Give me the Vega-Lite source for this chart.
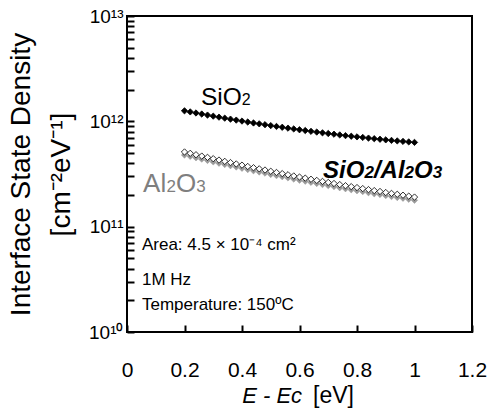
{
  "$schema": "https://vega.github.io/schema/vega-lite/v6.json",
  "width": 345,
  "height": 316,
  "autosize": "none",
  "padding": {"left": 127, "top": 16, "right": 18, "bottom": 80},
  "config": {
    "font": "Liberation Sans",
    "view": {"stroke": "black", "strokeWidth": 2},
    "axis": {"grid": false, "ticks": true, "tickSize": 7, "tickWidth": 2, "tickColor": "black", "tickOpacity": 1, "offset": -7, "domain": false, "zindex": 1, "labelColor": "black", "labelFlush": false, "labelOverlap": false},
    "text": {"baseline": "alphabetic", "align": "left", "color": "black"}
  },
  "datasets": {
    "pts": [
      {"x": 0.20, "series": "SiO2", "y": 1.259e12},
      {"x": 0.22, "series": "SiO2", "y": 1.229e12},
      {"x": 0.24, "series": "SiO2", "y": 1.200e12},
      {"x": 0.26, "series": "SiO2", "y": 1.173e12},
      {"x": 0.28, "series": "SiO2", "y": 1.146e12},
      {"x": 0.30, "series": "SiO2", "y": 1.120e12},
      {"x": 0.32, "series": "SiO2", "y": 1.096e12},
      {"x": 0.34, "series": "SiO2", "y": 1.072e12},
      {"x": 0.36, "series": "SiO2", "y": 1.049e12},
      {"x": 0.38, "series": "SiO2", "y": 1.027e12},
      {"x": 0.40, "series": "SiO2", "y": 1.006e12},
      {"x": 0.42, "series": "SiO2", "y": 9.85e11},
      {"x": 0.44, "series": "SiO2", "y": 9.65e11},
      {"x": 0.46, "series": "SiO2", "y": 9.47e11},
      {"x": 0.48, "series": "SiO2", "y": 9.29e11},
      {"x": 0.50, "series": "SiO2", "y": 9.11e11},
      {"x": 0.52, "series": "SiO2", "y": 8.94e11},
      {"x": 0.54, "series": "SiO2", "y": 8.78e11},
      {"x": 0.56, "series": "SiO2", "y": 8.62e11},
      {"x": 0.58, "series": "SiO2", "y": 8.47e11},
      {"x": 0.60, "series": "SiO2", "y": 8.32e11},
      {"x": 0.62, "series": "SiO2", "y": 8.18e11},
      {"x": 0.64, "series": "SiO2", "y": 8.04e11},
      {"x": 0.66, "series": "SiO2", "y": 7.91e11},
      {"x": 0.68, "series": "SiO2", "y": 7.78e11},
      {"x": 0.70, "series": "SiO2", "y": 7.66e11},
      {"x": 0.72, "series": "SiO2", "y": 7.55e11},
      {"x": 0.74, "series": "SiO2", "y": 7.43e11},
      {"x": 0.76, "series": "SiO2", "y": 7.32e11},
      {"x": 0.78, "series": "SiO2", "y": 7.22e11},
      {"x": 0.80, "series": "SiO2", "y": 7.12e11},
      {"x": 0.82, "series": "SiO2", "y": 7.03e11},
      {"x": 0.84, "series": "SiO2", "y": 6.93e11},
      {"x": 0.86, "series": "SiO2", "y": 6.84e11},
      {"x": 0.88, "series": "SiO2", "y": 6.76e11},
      {"x": 0.90, "series": "SiO2", "y": 6.67e11},
      {"x": 0.92, "series": "SiO2", "y": 6.59e11},
      {"x": 0.94, "series": "SiO2", "y": 6.52e11},
      {"x": 0.96, "series": "SiO2", "y": 6.45e11},
      {"x": 0.98, "series": "SiO2", "y": 6.38e11},
      {"x": 1.00, "series": "SiO2", "y": 6.31e11},
      {"x": 0.20, "series": "SiO2/Al2O3", "y": 5.12e11},
      {"x": 0.22, "series": "SiO2/Al2O3", "y": 4.97e11},
      {"x": 0.24, "series": "SiO2/Al2O3", "y": 4.82e11},
      {"x": 0.26, "series": "SiO2/Al2O3", "y": 4.68e11},
      {"x": 0.28, "series": "SiO2/Al2O3", "y": 4.55e11},
      {"x": 0.30, "series": "SiO2/Al2O3", "y": 4.42e11},
      {"x": 0.32, "series": "SiO2/Al2O3", "y": 4.29e11},
      {"x": 0.34, "series": "SiO2/Al2O3", "y": 4.17e11},
      {"x": 0.36, "series": "SiO2/Al2O3", "y": 4.06e11},
      {"x": 0.38, "series": "SiO2/Al2O3", "y": 3.94e11},
      {"x": 0.40, "series": "SiO2/Al2O3", "y": 3.84e11},
      {"x": 0.42, "series": "SiO2/Al2O3", "y": 3.73e11},
      {"x": 0.44, "series": "SiO2/Al2O3", "y": 3.63e11},
      {"x": 0.46, "series": "SiO2/Al2O3", "y": 3.54e11},
      {"x": 0.48, "series": "SiO2/Al2O3", "y": 3.45e11},
      {"x": 0.50, "series": "SiO2/Al2O3", "y": 3.36e11},
      {"x": 0.52, "series": "SiO2/Al2O3", "y": 3.27e11},
      {"x": 0.54, "series": "SiO2/Al2O3", "y": 3.19e11},
      {"x": 0.56, "series": "SiO2/Al2O3", "y": 3.11e11},
      {"x": 0.58, "series": "SiO2/Al2O3", "y": 3.03e11},
      {"x": 0.60, "series": "SiO2/Al2O3", "y": 2.96e11},
      {"x": 0.62, "series": "SiO2/Al2O3", "y": 2.89e11},
      {"x": 0.64, "series": "SiO2/Al2O3", "y": 2.82e11},
      {"x": 0.66, "series": "SiO2/Al2O3", "y": 2.75e11},
      {"x": 0.68, "series": "SiO2/Al2O3", "y": 2.69e11},
      {"x": 0.70, "series": "SiO2/Al2O3", "y": 2.63e11},
      {"x": 0.72, "series": "SiO2/Al2O3", "y": 2.57e11},
      {"x": 0.74, "series": "SiO2/Al2O3", "y": 2.51e11},
      {"x": 0.76, "series": "SiO2/Al2O3", "y": 2.45e11},
      {"x": 0.78, "series": "SiO2/Al2O3", "y": 2.40e11},
      {"x": 0.80, "series": "SiO2/Al2O3", "y": 2.35e11},
      {"x": 0.82, "series": "SiO2/Al2O3", "y": 2.30e11},
      {"x": 0.84, "series": "SiO2/Al2O3", "y": 2.25e11},
      {"x": 0.86, "series": "SiO2/Al2O3", "y": 2.20e11},
      {"x": 0.88, "series": "SiO2/Al2O3", "y": 2.16e11},
      {"x": 0.90, "series": "SiO2/Al2O3", "y": 2.11e11},
      {"x": 0.92, "series": "SiO2/Al2O3", "y": 2.07e11},
      {"x": 0.94, "series": "SiO2/Al2O3", "y": 2.03e11},
      {"x": 0.96, "series": "SiO2/Al2O3", "y": 1.99e11},
      {"x": 0.98, "series": "SiO2/Al2O3", "y": 1.95e11},
      {"x": 1.00, "series": "SiO2/Al2O3", "y": 1.91e11},
      {"x": 0.20, "series": "Al2O3", "y": 4.78e11},
      {"x": 0.22, "series": "Al2O3", "y": 4.64e11},
      {"x": 0.24, "series": "Al2O3", "y": 4.50e11},
      {"x": 0.26, "series": "Al2O3", "y": 4.37e11},
      {"x": 0.28, "series": "Al2O3", "y": 4.25e11},
      {"x": 0.30, "series": "Al2O3", "y": 4.12e11},
      {"x": 0.32, "series": "Al2O3", "y": 4.00e11},
      {"x": 0.34, "series": "Al2O3", "y": 3.89e11},
      {"x": 0.36, "series": "Al2O3", "y": 3.79e11},
      {"x": 0.38, "series": "Al2O3", "y": 3.68e11},
      {"x": 0.40, "series": "Al2O3", "y": 3.58e11},
      {"x": 0.42, "series": "Al2O3", "y": 3.48e11},
      {"x": 0.44, "series": "Al2O3", "y": 3.39e11},
      {"x": 0.46, "series": "Al2O3", "y": 3.30e11},
      {"x": 0.48, "series": "Al2O3", "y": 3.22e11},
      {"x": 0.50, "series": "Al2O3", "y": 3.13e11},
      {"x": 0.52, "series": "Al2O3", "y": 3.05e11},
      {"x": 0.54, "series": "Al2O3", "y": 2.98e11},
      {"x": 0.56, "series": "Al2O3", "y": 2.90e11},
      {"x": 0.58, "series": "Al2O3", "y": 2.83e11},
      {"x": 0.60, "series": "Al2O3", "y": 2.76e11},
      {"x": 0.62, "series": "Al2O3", "y": 2.70e11},
      {"x": 0.64, "series": "Al2O3", "y": 2.63e11},
      {"x": 0.66, "series": "Al2O3", "y": 2.57e11},
      {"x": 0.68, "series": "Al2O3", "y": 2.51e11},
      {"x": 0.70, "series": "Al2O3", "y": 2.45e11},
      {"x": 0.72, "series": "Al2O3", "y": 2.40e11},
      {"x": 0.74, "series": "Al2O3", "y": 2.34e11},
      {"x": 0.76, "series": "Al2O3", "y": 2.29e11},
      {"x": 0.78, "series": "Al2O3", "y": 2.24e11},
      {"x": 0.80, "series": "Al2O3", "y": 2.19e11},
      {"x": 0.82, "series": "Al2O3", "y": 2.15e11},
      {"x": 0.84, "series": "Al2O3", "y": 2.10e11},
      {"x": 0.86, "series": "Al2O3", "y": 2.05e11},
      {"x": 0.88, "series": "Al2O3", "y": 2.02e11},
      {"x": 0.90, "series": "Al2O3", "y": 1.97e11},
      {"x": 0.92, "series": "Al2O3", "y": 1.93e11},
      {"x": 0.94, "series": "Al2O3", "y": 1.89e11},
      {"x": 0.96, "series": "Al2O3", "y": 1.86e11},
      {"x": 0.98, "series": "Al2O3", "y": 1.82e11},
      {"x": 1.00, "series": "Al2O3", "y": 1.78e11}
    ]
  },
  "layer": [
    {
      "data": {"name": "pts"},
      "transform": [{"filter": "datum.series == 'Al2O3'"}],
      "mark": {"type": "point", "shape": "diamond", "size": 40, "filled": true, "fill": "#9a9a9a", "stroke": "#9a9a9a", "strokeWidth": 0.5, "opacity": 1},
      "encoding": {
        "x": {
          "field": "x", "type": "quantitative",
          "scale": {"domain": [0, 1.2], "nice": false, "zero": false},
          "axis": {
            "values": [0, 0.2, 0.4, 0.6, 0.8, 1, 1.2],
            "format": "~g",
            "title": null,
            "offset": -7,
            "domain": false,
            "ticks": true,
            "tickSize": 7,
            "tickWidth": 2,
            "tickColor": "black",
            "labelFontSize": 21,
            "labelColor": "black",
            "labelPadding": 27,
            "labelFlush": false,
            "labelOverlap": false,
            "zindex": 1
          }
        },
        "y": {
          "field": "y", "type": "quantitative",
          "scale": {"type": "log", "domain": [1e10, 1e13], "nice": false},
          "axis": {
            "values": [1e10, 2e10, 3e10, 4e10, 5e10, 6e10, 7e10, 8e10, 9e10, 1e11, 2e11, 3e11, 4e11, 5e11, 6e11, 7e11, 8e11, 9e11, 1e12, 2e12, 3e12, 4e12, 5e12, 6e12, 7e12, 8e12, 9e12, 1e13],
            "labelExpr": "datum.value == 1e10 ? '10¹⁰' : datum.value == 1e11 ? '10¹¹' : datum.value == 1e12 ? '10¹²' : datum.value == 1e13 ? '10¹³' : ''",
            "offset": -7,
            "domain": false,
            "ticks": true,
            "tickSize": 7,
            "tickWidth": 2,
            "tickColor": "black",
            "labelFontSize": 19,
            "labelColor": "black",
            "labelPadding": 4,
            "labelOverlap": false,
            "labelFlush": false,
            "zindex": 1,
            "title": ["Interface State Density", "[cm⁻²eV⁻¹]"],
            "titleFontSize": 28,
            "titleFontWeight": "normal",
            "titleColor": "black",
            "titleLineHeight": 40,
            "titlePadding": 13
          }
        }
      }
    },
    {
      "data": {"name": "pts"},
      "transform": [{"filter": "datum.series == 'SiO2/Al2O3'"}],
      "mark": {"type": "point", "shape": "diamond", "size": 40, "filled": true, "fill": "white", "stroke": "black", "strokeWidth": 0.8, "opacity": 1},
      "encoding": {
        "x": {"field": "x", "type": "quantitative"},
        "y": {"field": "y", "type": "quantitative"}
      }
    },
    {
      "data": {"name": "pts"},
      "transform": [{"filter": "datum.series == 'SiO2'"}],
      "mark": {"type": "point", "shape": "diamond", "size": 40, "filled": true, "fill": "black", "stroke": "black", "strokeWidth": 0.8, "opacity": 1},
      "encoding": {
        "x": {"field": "x", "type": "quantitative"},
        "y": {"field": "y", "type": "quantitative"}
      }
    },
    {
      "data": {"values": [{"t": "SiO"}]},
      "mark": {"type": "text", "fontSize": 24.5},
      "encoding": {"text": {"field": "t"}, "x": {"datum": 0.257, "type": "quantitative"}, "y": {"datum": 1.43e12, "type": "quantitative"}}
    },
    {
      "data": {"values": [{"t": "2"}]},
      "mark": {"type": "text", "fontSize": 16, "dx": 40.8},
      "encoding": {"text": {"field": "t"}, "x": {"datum": 0.257, "type": "quantitative"}, "y": {"datum": 1.43e12, "type": "quantitative"}}
    },
    {
      "data": {"values": [{"t": "Al"}]},
      "mark": {"type": "text", "fontSize": 26, "color": "#7f7f7f"},
      "encoding": {"text": {"field": "t"}, "x": {"datum": 0.056, "type": "quantitative"}, "y": {"datum": 2.12e11, "type": "quantitative"}}
    },
    {
      "data": {"values": [{"t": "2"}]},
      "mark": {"type": "text", "fontSize": 17, "color": "#7f7f7f", "dx": 23.4},
      "encoding": {"text": {"field": "t"}, "x": {"datum": 0.056, "type": "quantitative"}, "y": {"datum": 2.12e11, "type": "quantitative"}}
    },
    {
      "data": {"values": [{"t": "O"}]},
      "mark": {"type": "text", "fontSize": 26, "color": "#7f7f7f", "dx": 32.8},
      "encoding": {"text": {"field": "t"}, "x": {"datum": 0.056, "type": "quantitative"}, "y": {"datum": 2.12e11, "type": "quantitative"}}
    },
    {
      "data": {"values": [{"t": "3"}]},
      "mark": {"type": "text", "fontSize": 17, "color": "#7f7f7f", "dx": 53.2},
      "encoding": {"text": {"field": "t"}, "x": {"datum": 0.056, "type": "quantitative"}, "y": {"datum": 2.12e11, "type": "quantitative"}}
    },
    {
      "data": {"values": [{"t": "SiO"}]},
      "mark": {"type": "text", "fontSize": 24, "fontWeight": "bold", "fontStyle": "italic"},
      "encoding": {"text": {"field": "t"}, "x": {"datum": 0.682, "type": "quantitative"}, "y": {"datum": 2.92e11, "type": "quantitative"}}
    },
    {
      "data": {"values": [{"t": "2"}]},
      "mark": {"type": "text", "fontSize": 17, "fontWeight": "bold", "fontStyle": "italic", "dx": 41.3},
      "encoding": {"text": {"field": "t"}, "x": {"datum": 0.682, "type": "quantitative"}, "y": {"datum": 2.92e11, "type": "quantitative"}}
    },
    {
      "data": {"values": [{"t": "/Al"}]},
      "mark": {"type": "text", "fontSize": 24, "fontWeight": "bold", "fontStyle": "italic", "dx": 50.8},
      "encoding": {"text": {"field": "t"}, "x": {"datum": 0.682, "type": "quantitative"}, "y": {"datum": 2.92e11, "type": "quantitative"}}
    },
    {
      "data": {"values": [{"t": "2"}]},
      "mark": {"type": "text", "fontSize": 17, "fontWeight": "bold", "fontStyle": "italic", "dx": 81.5},
      "encoding": {"text": {"field": "t"}, "x": {"datum": 0.682, "type": "quantitative"}, "y": {"datum": 2.92e11, "type": "quantitative"}}
    },
    {
      "data": {"values": [{"t": "O"}]},
      "mark": {"type": "text", "fontSize": 24, "fontWeight": "bold", "fontStyle": "italic", "dx": 90.9},
      "encoding": {"text": {"field": "t"}, "x": {"datum": 0.682, "type": "quantitative"}, "y": {"datum": 2.92e11, "type": "quantitative"}}
    },
    {
      "data": {"values": [{"t": "3"}]},
      "mark": {"type": "text", "fontSize": 17, "fontWeight": "bold", "fontStyle": "italic", "dx": 109.6},
      "encoding": {"text": {"field": "t"}, "x": {"datum": 0.682, "type": "quantitative"}, "y": {"datum": 2.92e11, "type": "quantitative"}}
    },
    {
      "data": {"values": [{"t": "Area: 4.5 × 10⁻⁴ cm²"}]},
      "mark": {"type": "text", "fontSize": 17},
      "encoding": {"text": {"field": "t"}, "x": {"datum": 0.052, "type": "quantitative"}, "y": {"datum": 6.0e10, "type": "quantitative"}}
    },
    {
      "data": {"values": [{"t": "1M Hz"}]},
      "mark": {"type": "text", "fontSize": 17},
      "encoding": {"text": {"field": "t"}, "x": {"datum": 0.052, "type": "quantitative"}, "y": {"datum": 2.79e10, "type": "quantitative"}}
    },
    {
      "data": {"values": [{"t": "Temperature: 150ºC"}]},
      "mark": {"type": "text", "fontSize": 17},
      "encoding": {"text": {"field": "t"}, "x": {"datum": 0.052, "type": "quantitative"}, "y": {"datum": 1.62e10, "type": "quantitative"}}
    },
    {
      "data": {"values": [{"t": "E - Ec"}]},
      "mark": {"type": "text", "align": "right", "fontSize": 22, "fontStyle": "italic"},
      "encoding": {"text": {"field": "t"}, "x": {"datum": 0.609, "type": "quantitative"}, "y": {"datum": 2.12e9, "type": "quantitative"}}
    },
    {
      "data": {"values": [{"t": "[eV]"}]},
      "mark": {"type": "text", "fontSize": 23},
      "encoding": {"text": {"field": "t"}, "x": {"datum": 0.647, "type": "quantitative"}, "y": {"datum": 2.12e9, "type": "quantitative"}}
    }
  ]
}
